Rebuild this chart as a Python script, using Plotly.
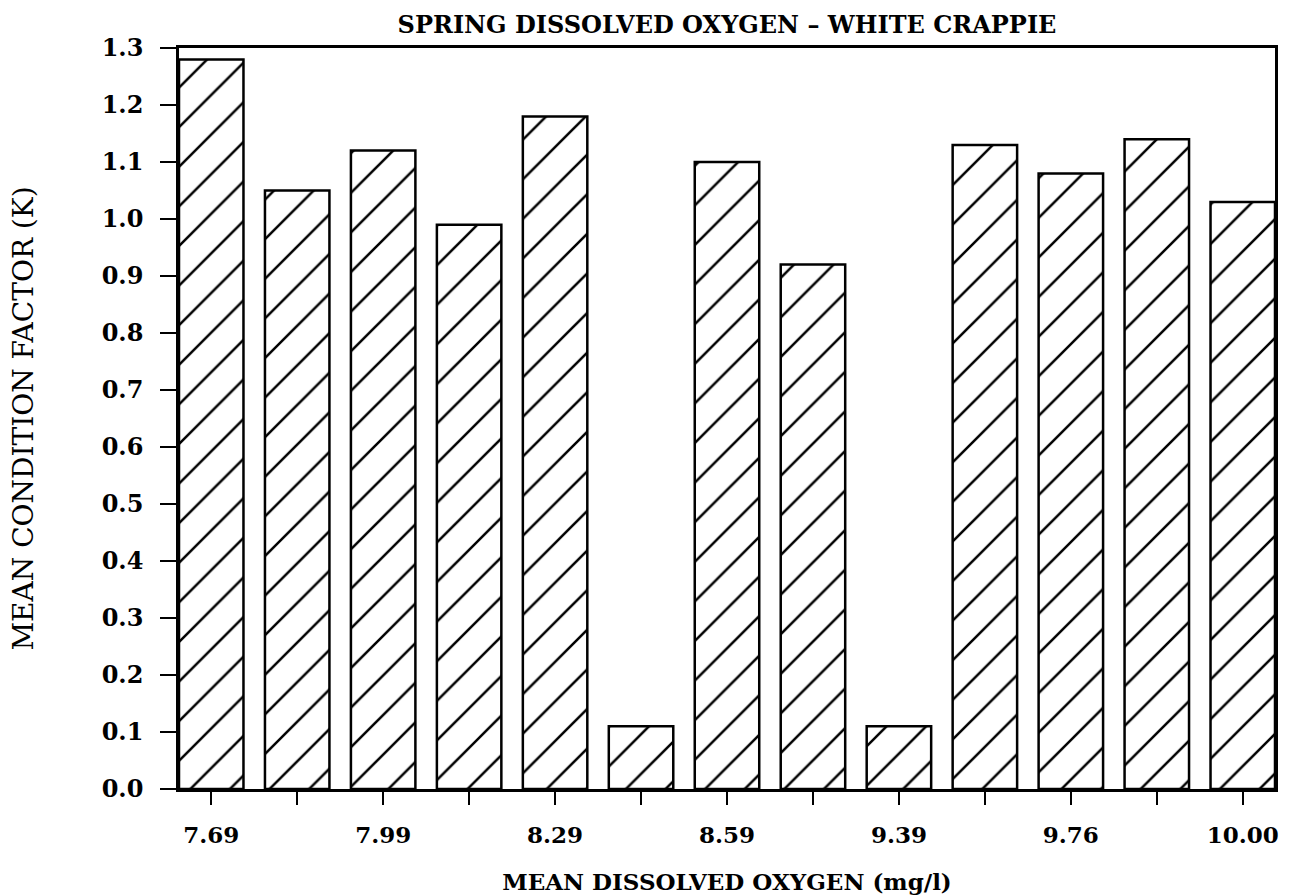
import plotly.graph_objects as go

# Mean condition factor (K) of white crappie by spring dissolved-oxygen station
bar_position = list(range(13))
condition_factor = [1.28, 1.05, 1.12, 0.99, 1.18, 0.11, 1.10, 0.92, 0.11, 1.13, 1.08, 1.14, 1.03]
do_tick_labels = ["7.69", "", "7.99", "", "8.29", "", "8.59", "", "9.39", "", "9.76", "", "10.00"]
k_ticks = [round(0.1 * i, 1) for i in range(14)]

serif = "DejaVu Serif"

fig = go.Figure(
    go.Bar(
        x=bar_position,
        y=condition_factor,
        width=0.75,
        marker=dict(
            color="white",
            line=dict(color="black", width=2.5),
            pattern=dict(
                shape="/", size=28, solidity=0.09,
                fgcolor="black", fgopacity=1, bgcolor="white",
            ),
        ),
        showlegend=False,
    )
)

fig.update_layout(
    width=1289,
    height=895,
    margin=dict(l=179, r=14, t=48, b=106),
    paper_bgcolor="white",
    plot_bgcolor="white",
    title=dict(
        text="<b>SPRING DISSOLVED OXYGEN – WHITE CRAPPIE</b>",
        font=dict(family=serif, size=24, color="black"),
        x=0.5,
        xref="paper",
        xanchor="center",
        y=1 - 25 / 895,
        yanchor="middle",
    ),
    bargap=0.25,
)

fig.update_xaxes(
    automargin=False,
    range=[-0.375, 12.375],
    tickmode="array",
    tickvals=bar_position,
    ticktext=[f"<b>{t}</b>" if t else "" for t in do_tick_labels],
    ticks="outside",
    ticklen=13,
    tickwidth=2,
    tickcolor="black",
    ticklabelstandoff=11,
    tickfont=dict(family=serif, size=23, color="black"),
    showline=True,
    linecolor="black",
    linewidth=2.5,
    mirror=True,
    showgrid=False,
    zeroline=False,
    title=dict(
        text="<b>MEAN DISSOLVED OXYGEN (mg/l)</b>",
        font=dict(family=serif, size=23, color="black"),
        standoff=32,
    ),
)

fig.update_yaxes(
    automargin=False,
    range=[0, 1.3],
    tickmode="array",
    tickvals=k_ticks,
    ticktext=[f"<b>{v:.1f}</b>" for v in k_ticks],
    ticks="outside",
    ticklen=16,
    tickwidth=2,
    tickcolor="black",
    ticklabelstandoff=12,
    tickfont=dict(family=serif, size=24, color="black"),
    showline=True,
    linecolor="black",
    linewidth=2.5,
    mirror=True,
    showgrid=False,
    zeroline=False,
    title=dict(
        text="MEAN CONDITION FACTOR (K)",
        font=dict(family=serif, size=28, color="black"),
        standoff=60,
    ),
)

fig.write_html("out.html")
